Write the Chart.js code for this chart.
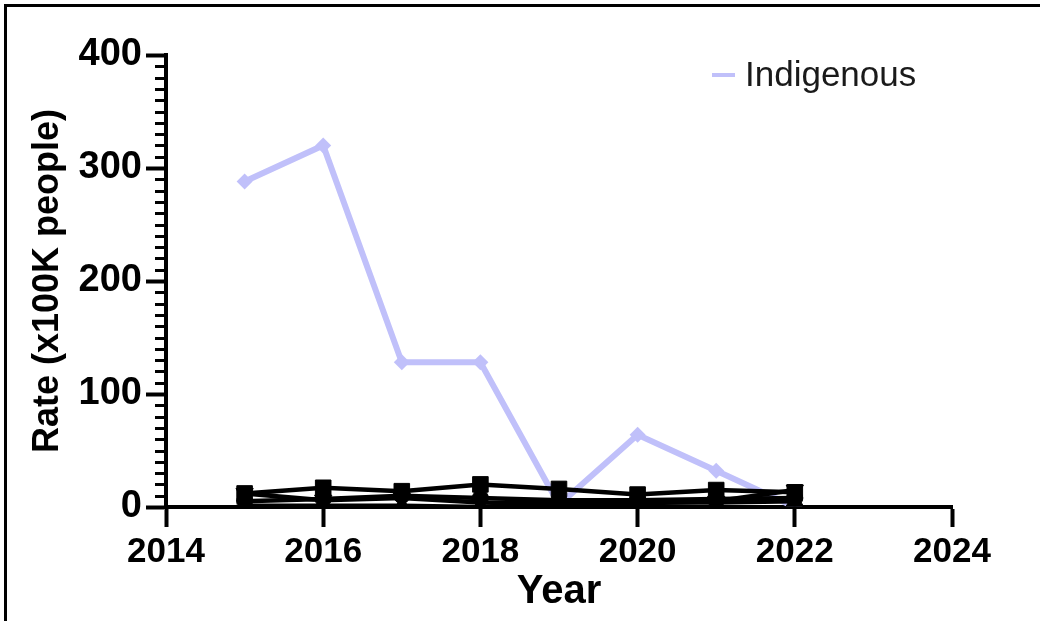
<!DOCTYPE html>
<html>
<head>
<meta charset="utf-8">
<script src="https://cdn.jsdelivr.net/npm/chart.js@4"></script>
<style>
  body { margin: 0; background: #fff; }
  #wrap { position: relative; width: 1040px; height: 621px; overflow: hidden; }
  #frame { position: absolute; left: 4px; top: 4px; width: 1100px; height: 700px;
           border-left: 3px solid #000; border-top: 3px solid #000; }
  canvas { position: absolute; left: 0; top: 0; }
</style>
</head>
<body>
<div id="wrap">
  <div id="frame"></div>
  <canvas id="myChart" width="1040" height="621"></canvas>
</div>
<script>
// data
var years = [2015, 2016, 2017, 2018, 2019, 2020, 2021, 2022];
var indigenous = [288, 320, 128, 128, 2, 64, 32, 0];
var seriesSquare = [12, 17, 14, 20, 16, 11, 15, 13];
var seriesCircle = [5, 7, 10, 8, 6, 6, 7, 8];
var seriesTriUp = [1, 1, 1, 0, 4, 4, 4, 5];
var seriesTriDown = [12, 6, 8, 4, 3, 3, 5, 15];
var xTicks = [2014, 2016, 2018, 2020, 2022, 2024];
var yTicks = [0, 100, 200, 300, 400];

var lilac = 'rgb(192,192,250)';
var fontFam = '"Liberation Sans", Arial, sans-serif';

function pts(vals) {
    return years.map(function (y, i) { return { x: y, y: vals[i] }; });
}

function blackSet(label, vals, style, radius, rot) {
    return {
        label: label,
        data: pts(vals),
        borderColor: '#000',
        backgroundColor: '#000',
        borderWidth: 4.5,
        pointStyle: style,
        pointRadius: radius,
        pointRotation: rot || 0,
        pointBorderWidth: 1,
        showInLegend: false
    };
}

// minor ticks on the y axis + legend inside the plot
var extras = {
    id: 'extras',
    afterDraw: function (chart) {
        var c = chart.ctx;
        var y = chart.scales.y;
        c.save();
        c.strokeStyle = '#000';
        c.lineWidth = 3;
        for (var v = 10; v < 400; v += 10) {
            if (v % 100 === 0) continue;
            var py = Math.round(y.getPixelForValue(v)) + 0.5;
            c.beginPath();
            c.moveTo(y.right - 11, py);
            c.lineTo(y.right, py);
            c.stroke();
        }
        // legend
        var area = chart.chartArea;
        var lx = area.right - 240, ly = area.top + 20;
        chart.data.datasets.forEach(function (ds) {
            if (!ds.showInLegend) return;
            c.strokeStyle = ds.borderColor;
            c.lineWidth = 4;
            c.beginPath();
            c.moveTo(lx, ly);
            c.lineTo(lx + 23, ly);
            c.stroke();
            c.fillStyle = '#1a1a1a';
            c.font = '35px ' + fontFam;
            c.textBaseline = 'middle';
            c.fillText(ds.label, lx + 33, ly + 1);
        });
        c.restore();
    }
};

var ctx = document.getElementById('myChart').getContext('2d');

var axisStyle = {
    grid: { drawOnChartArea: false, tickLength: 20, tickWidth: 4, tickColor: '#000' },
    border: { color: '#000', width: 4 }
};

var myChart = new Chart(ctx, {
    type: 'line',
    data: {
        datasets: [
            blackSet('Series A', seriesSquare, 'rect', 11),
            blackSet('Series B', seriesCircle, 'circle', 8),
            blackSet('Series C', seriesTriUp, 'triangle', 10),
            blackSet('Series D', seriesTriDown, 'triangle', 10, 180),
            {
                label: 'Indigenous',
                data: pts(indigenous),
                borderColor: lilac,
                backgroundColor: lilac,
                borderWidth: 6,
                pointStyle: 'rectRot',
                pointRadius: 8,
                pointBorderWidth: 0,
                showInLegend: true
            }
        ]
    },
    options: {
        responsive: false,
        animation: false,
        layout: { padding: { left: 0, right: 88, top: 55, bottom: 0 } },
        plugins: { legend: { display: false }, tooltip: { enabled: false } },
        scales: {
            x: {
                type: 'linear',
                min: 2014,
                max: 2024,
                afterBuildTicks: function (s) { s.ticks = xTicks.map(function (v) { return { value: v }; }); },
                afterFit: function (s) { s.height = 114; },
                ticks: {
                    color: '#000',
                    padding: 4,
                    font: { family: fontFam, size: 35, weight: 'bold' },
                    callback: function (v) { return String(v); }
                },
                title: {
                    display: true,
                    text: 'Year',
                    color: '#000',
                    padding: { top: 0, bottom: 5 },
                    font: { family: fontFam, size: 40, weight: 'bold' }
                },
                grid: axisStyle.grid,
                border: axisStyle.border
            },
            y: {
                min: 0,
                max: 400,
                afterBuildTicks: function (s) { s.ticks = yTicks.map(function (v) { return { value: v }; }); },
                afterFit: function (s) { s.width = 166; },
                ticks: {
                    color: '#000',
                    padding: 4,
                    font: { family: fontFam, size: 38, weight: 'bold' }
                },
                title: {
                    display: true,
                    text: 'Rate (x100K people)',
                    color: '#000',
                    padding: { top: 26, bottom: 0 },
                    font: { family: fontFam, size: 36, weight: 'bold' }
                },
                grid: axisStyle.grid,
                border: axisStyle.border
            }
        }
    },
    plugins: [extras]
});
</script>
</body>
</html>
